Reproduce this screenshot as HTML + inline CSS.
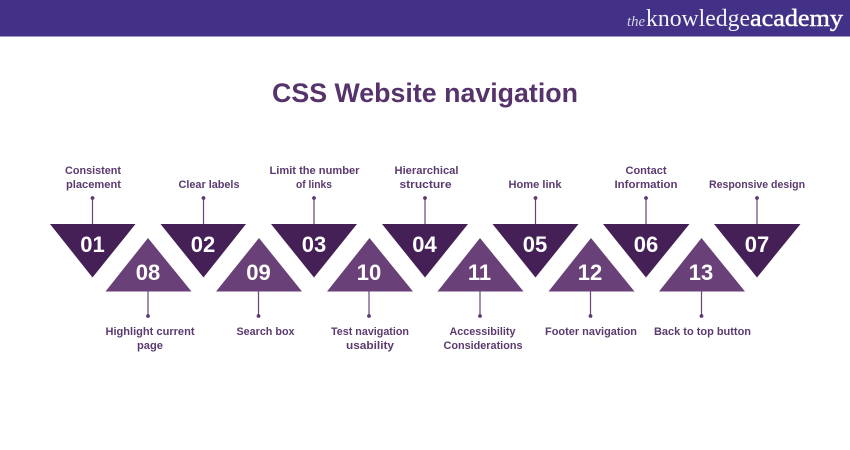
<!DOCTYPE html>
<html>
<head>
<meta charset="utf-8">
<style>
html,body{margin:0;padding:0;background:#fff;}
svg{display:block;}
.l{font-family:"Liberation Sans",sans-serif;font-size:10.7px;font-weight:700;fill:#5b3a70;text-anchor:start;}
.n{font-family:"Liberation Sans",sans-serif;font-size:22px;font-weight:700;fill:#fff;text-anchor:middle;}
</style>
</head>
<body>
<svg width="850" height="450" viewBox="0 0 850 450" xmlns="http://www.w3.org/2000/svg">
<rect width="850" height="450" fill="#fff"/>
<rect width="850" height="36.5" fill="#433087"/>
<text x="627" y="26" font-family="Liberation Serif,serif" font-size="15" font-style="italic" fill="#d9d3e8" textLength="18" lengthAdjust="spacingAndGlyphs">the</text>
<text x="646" y="26" font-family="Liberation Serif,serif" font-size="24.5" fill="#f4f2f8" textLength="104" lengthAdjust="spacingAndGlyphs">knowledge</text>
<text x="750" y="26" font-family="Liberation Serif,serif" font-size="24.5" fill="#fff" stroke="#fff" stroke-width="0.45" textLength="93" lengthAdjust="spacingAndGlyphs">academy</text>
<text x="272" y="102" font-family="Liberation Sans,sans-serif" font-size="27" font-weight="700" fill="#56336b" textLength="306" lengthAdjust="spacingAndGlyphs">CSS Website navigation</text>

<g stroke="#6b4278" stroke-width="1.2">
<line x1="92.5" y1="198" x2="92.5" y2="224"/><line x1="203.5" y1="198" x2="203.5" y2="224"/><line x1="314" y1="198" x2="314" y2="224"/><line x1="425" y1="198" x2="425" y2="224"/><line x1="535.5" y1="198" x2="535.5" y2="224"/><line x1="646" y1="198" x2="646" y2="224"/><line x1="757" y1="198" x2="757" y2="224"/>
<line x1="148" y1="291" x2="148" y2="316"/><line x1="258.5" y1="291" x2="258.5" y2="316"/><line x1="369" y1="291" x2="369" y2="316"/><line x1="480" y1="291" x2="480" y2="316"/><line x1="590.5" y1="291" x2="590.5" y2="316"/><line x1="701.5" y1="291" x2="701.5" y2="316"/>
</g>
<g fill="#5b3a70">
<circle cx="92.5" cy="198" r="1.9"/><circle cx="203.5" cy="198" r="1.9"/><circle cx="314" cy="198" r="1.9"/><circle cx="425" cy="198" r="1.9"/><circle cx="535.5" cy="198" r="1.9"/><circle cx="646" cy="198" r="1.9"/><circle cx="757" cy="198" r="1.9"/>
<circle cx="148" cy="316" r="1.9"/><circle cx="258.5" cy="316" r="1.9"/><circle cx="369" cy="316" r="1.9"/><circle cx="480" cy="316" r="1.9"/><circle cx="590.5" cy="316" r="1.9"/><circle cx="701.5" cy="316" r="1.9"/>
</g>

<g fill="#452056">
<polygon points="50,224 135.5,224 92.5,277.5"/>
<polygon points="160.5,224 246,224 203.5,277.5"/>
<polygon points="271,224 357,224 314,277.5"/>
<polygon points="382,224 468,224 425,277.5"/>
<polygon points="492.5,224 578.5,224 535.5,277.5"/>
<polygon points="603,224 689.5,224 646,277.5"/>
<polygon points="714,224 800.5,224 757,277.5"/>
</g>
<g fill="#6a4078">
<polygon points="105.5,291.5 191.5,291.5 148,238"/>
<polygon points="216,291.5 302,291.5 259,238"/>
<polygon points="327,291.5 413,291.5 369.5,238"/>
<polygon points="437.5,291.5 523.5,291.5 480,238"/>
<polygon points="548.5,291.5 634.5,291.5 591,238"/>
<polygon points="659,291.5 745,291.5 701.5,238"/>
</g>

<g>
<text class="n" x="92.5" y="252">01</text>
<text class="n" x="203" y="252">02</text>
<text class="n" x="314" y="252">03</text>
<text class="n" x="424.5" y="252">04</text>
<text class="n" x="535" y="252">05</text>
<text class="n" x="646" y="252">06</text>
<text class="n" x="757" y="252">07</text>
<text class="n" x="148" y="280">08</text>
<text class="n" x="258.5" y="280">09</text>
<text class="n" x="369" y="280">10</text>
<text class="n" x="479.5" y="280">11</text>
<text class="n" x="590" y="280">12</text>
<text class="n" x="701" y="280">13</text>
</g>

<text class="l" x="65" y="174" textLength="56" lengthAdjust="spacingAndGlyphs">Consistent</text>
<text class="l" x="66" y="188" textLength="55" lengthAdjust="spacingAndGlyphs">placement</text>
<text class="l" x="178.5" y="188" textLength="61" lengthAdjust="spacingAndGlyphs">Clear labels</text>
<text class="l" x="269.5" y="174" textLength="90" lengthAdjust="spacingAndGlyphs">Limit the number</text>
<text class="l" x="296" y="188" textLength="36" lengthAdjust="spacingAndGlyphs">of links</text>
<text class="l" x="394.5" y="174" textLength="64" lengthAdjust="spacingAndGlyphs">Hierarchical</text>
<text class="l" x="399.5" y="188" textLength="52" lengthAdjust="spacingAndGlyphs">structure</text>
<text class="l" x="508.5" y="188" textLength="53" lengthAdjust="spacingAndGlyphs">Home link</text>
<text class="l" x="625.5" y="174" textLength="41" lengthAdjust="spacingAndGlyphs">Contact</text>
<text class="l" x="614.5" y="188" textLength="63" lengthAdjust="spacingAndGlyphs">Information</text>
<text class="l" x="709" y="188" textLength="96" lengthAdjust="spacingAndGlyphs">Responsive design</text>

<text class="l" x="105.5" y="335" textLength="89" lengthAdjust="spacingAndGlyphs">Highlight current</text>
<text class="l" x="137" y="349" textLength="26" lengthAdjust="spacingAndGlyphs">page</text>
<text class="l" x="236.5" y="335" textLength="58" lengthAdjust="spacingAndGlyphs">Search box</text>
<text class="l" x="331" y="335" textLength="78" lengthAdjust="spacingAndGlyphs">Test navigation</text>
<text class="l" x="346" y="349" textLength="48" lengthAdjust="spacingAndGlyphs">usability</text>
<text class="l" x="449.5" y="335" textLength="66" lengthAdjust="spacingAndGlyphs">Accessibility</text>
<text class="l" x="443.5" y="349" textLength="79" lengthAdjust="spacingAndGlyphs">Considerations</text>
<text class="l" x="545" y="335" textLength="92" lengthAdjust="spacingAndGlyphs">Footer navigation</text>
<text class="l" x="654" y="335" textLength="97" lengthAdjust="spacingAndGlyphs">Back to top button</text>
</svg>
</body>
</html>
